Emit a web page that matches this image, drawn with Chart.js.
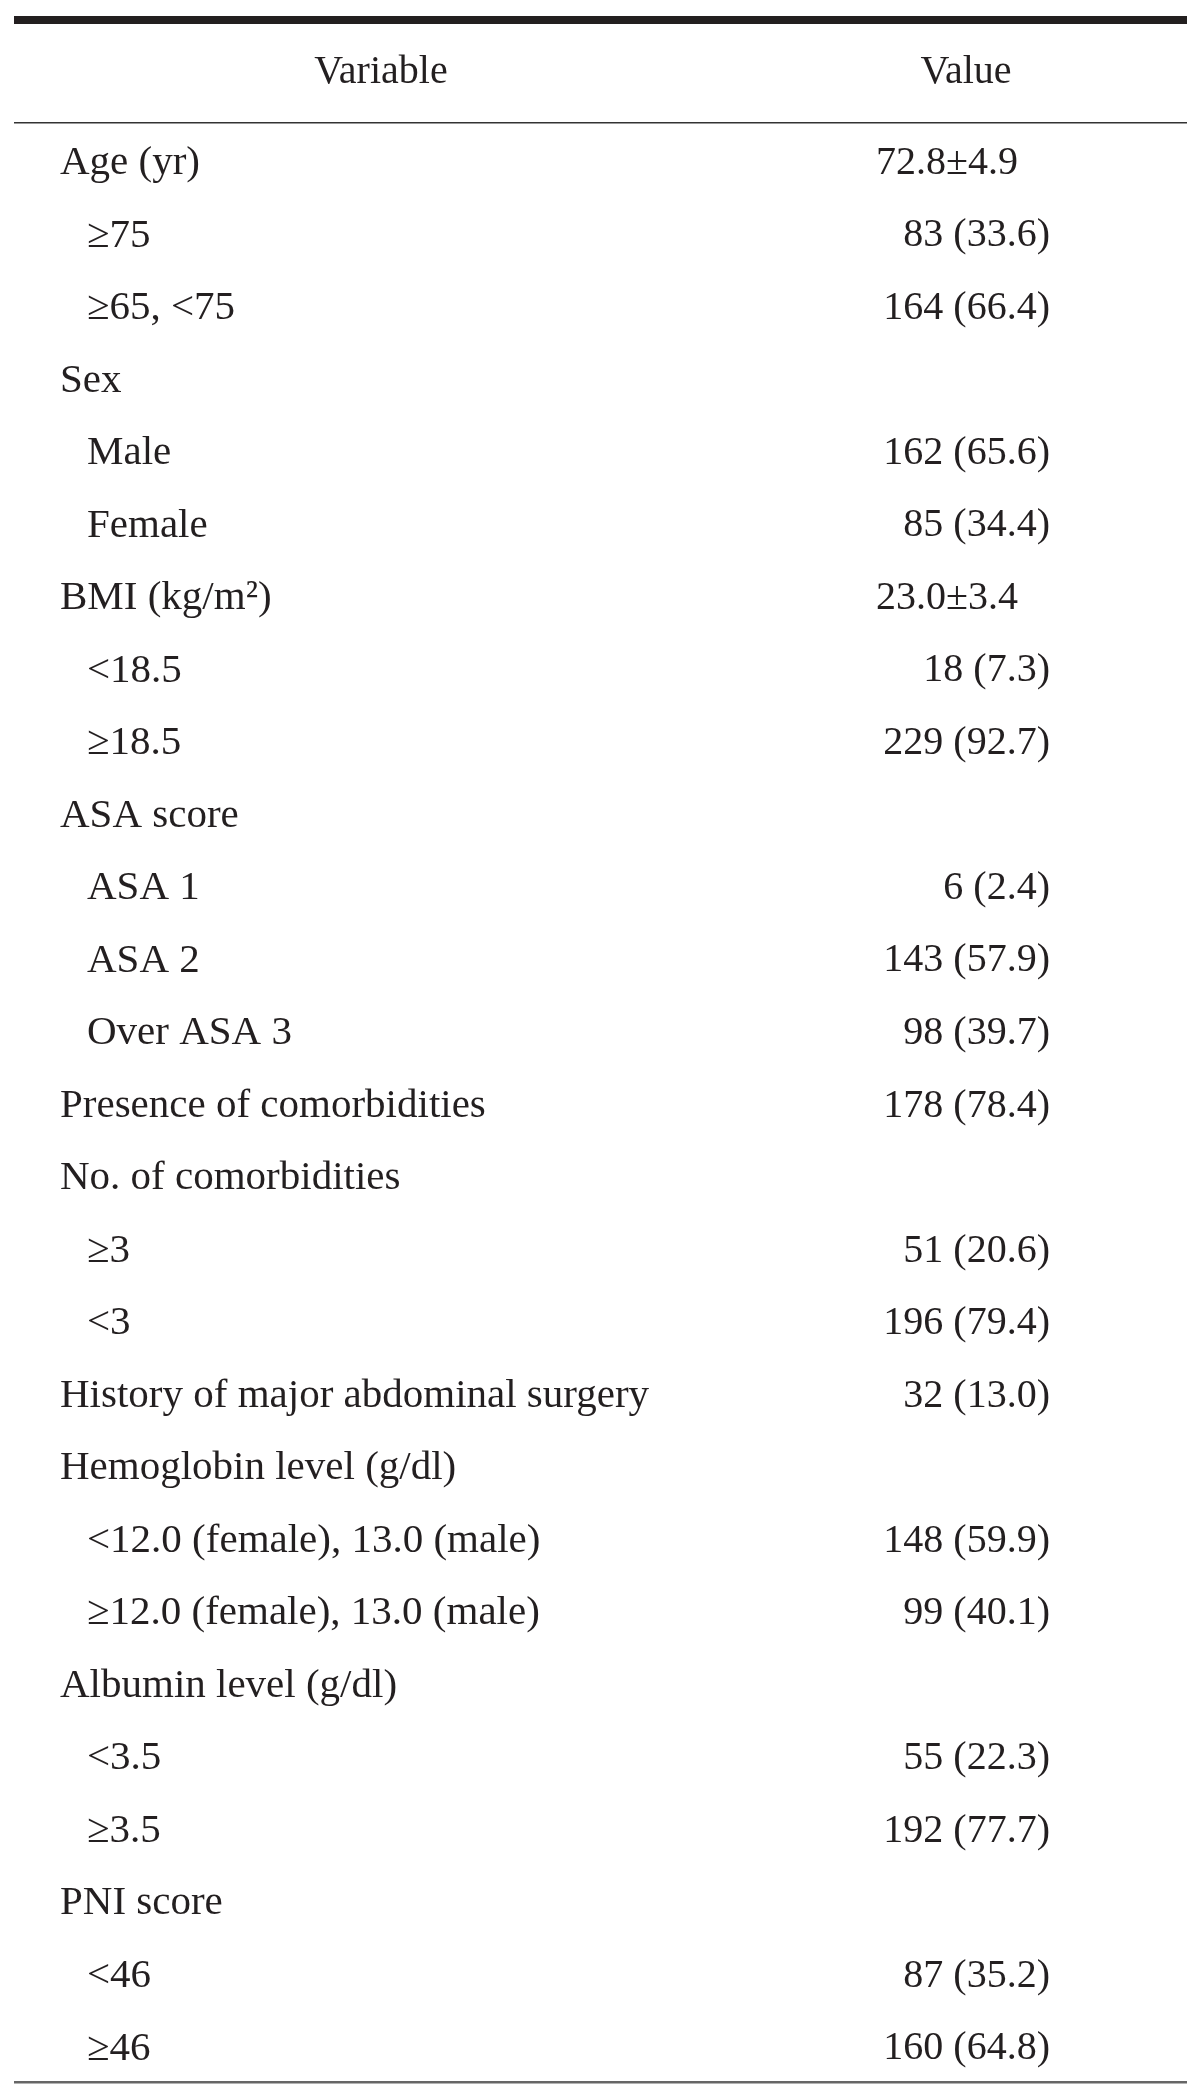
<!DOCTYPE html>
<html>
<head>
<meta charset="utf-8">
<script src="https://cdn.jsdelivr.net/npm/chart.js@4.4.1/dist/chart.umd.min.js"></script>
<style>
  html, body { margin: 0; padding: 0; background: #fff; }
  #wrap { width: 1200px; height: 2098px; }
</style>
</head>
<body>
<div id="wrap"><canvas id="table"></canvas></div>
<script>
const headers = ['Variable', 'Value'];

const variables = [
  'Age (yr)', '\u226575', '\u226565, <75',
  'Sex', 'Male', 'Female',
  'BMI (kg/m\u00b2)', '<18.5', '\u226518.5',
  'ASA score', 'ASA 1', 'ASA 2', 'Over ASA 3',
  'Presence of comorbidities',
  'No. of comorbidities', '\u22653', '<3',
  'History of major abdominal surgery',
  'Hemoglobin level (g/dl)', '<12.0 (female), 13.0 (male)', '\u226512.0 (female), 13.0 (male)',
  'Albumin level (g/dl)', '<3.5', '\u22653.5',
  'PNI score', '<46', '\u226546'
];
const indent = [0,1,1, 0,1,1, 0,1,1, 0,1,1,1, 0, 0,1,1, 0, 0,1,1, 0,1,1, 0,1,1];

const counts   = [null,83,164, null,162,85, null,18,229, null,6,143,98, 178, null,51,196, 32, null,148,99, null,55,192, null,87,160];
const percents = [null,33.6,66.4, null,65.6,34.4, null,7.3,92.7, null,2.4,57.9,39.7, 78.4, null,20.6,79.4, 13.0, null,59.9,40.1, null,22.3,77.7, null,35.2,64.8];
const means = [72.8, null, null, null, null, null, 23.0];
const sds   = [4.9, null, null, null, null, null, 3.4];

const FONT = '40px "Liberation Serif", "Times New Roman", serif';
const LABEL_FONT = '41px "Liberation Serif", "Times New Roman", serif';
const INK = '#231f20';

const tablePlugin = {
  id: 'tableCells',
  afterDraw(chart) {
    const ctx = chart.ctx;
    const y = chart.scales.y;
    const area = chart.chartArea;
    ctx.save();
    ctx.font = FONT;
    ctx.textBaseline = 'middle';

    // rules
    ctx.fillStyle = INK;
    ctx.fillRect(area.left, 16, area.right - area.left, 8);
    ctx.fillStyle = '#333';
    ctx.fillRect(area.left, area.top - 3, area.right - area.left, 1.5);
    ctx.fillStyle = '#666';
    ctx.fillRect(area.left, area.bottom - 2, area.right - area.left, 2.5);

    // header
    ctx.fillStyle = INK;
    ctx.textAlign = 'center';
    ctx.fillText(headers[0], 381, 72);
    ctx.fillText(headers[1], 966, 72);

    const decX = 1050 - ctx.measureText('.0)').width;
    variables.forEach((name, i) => {
      const py = y.getPixelForValue(i) + 2;
      ctx.textAlign = 'left';
      ctx.font = LABEL_FONT;
      ctx.fillText(name, indent[i] ? 87 : 60, py);
      ctx.font = FONT;
      if (means[i] != null) {
        ctx.fillText(means[i].toFixed(1) + '\u00b1' + sds[i].toFixed(1), 876, py);
      } else if (counts[i] != null) {
        const p = percents[i].toFixed(1).split('.');
        ctx.textAlign = 'right';
        ctx.fillText(counts[i] + ' (' + p[0], decX, py);
        ctx.textAlign = 'left';
        ctx.fillText('.' + p[1] + ')', decX, py);
      }
    });
    ctx.restore();
  }
};

new Chart(document.getElementById('table'), {
  type: 'line',
  data: { labels: variables, datasets: [] },
  options: {
    responsive: true,
    maintainAspectRatio: false,
    animation: false,
    layout: { padding: { top: 125, bottom: 15, left: 14, right: 13 } },
    plugins: { legend: { display: false }, tooltip: { enabled: false } },
    scales: {
      x: { type: 'linear', min: 0, max: 1, display: false },
      y: { type: 'category', offset: true, display: false }
    }
  },
  plugins: [tablePlugin]
});
</script>
</body>
</html>
